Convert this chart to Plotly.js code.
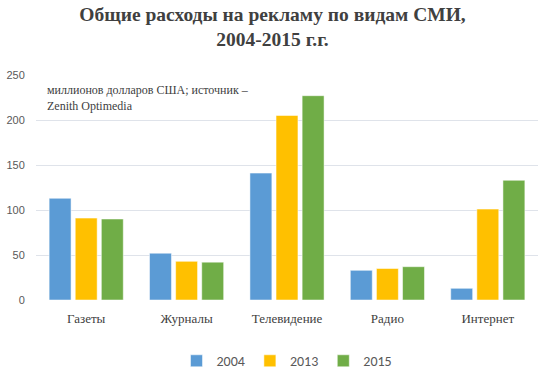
<!DOCTYPE html>
<html><head><meta charset="utf-8">
<script src="https://cdn.plot.ly/plotly-3.0.1.min.js"></script>
<style>body{margin:0;background:#fff}#c{width:545px;height:379px}</style>
</head><body><div id="c"></div>
<script>
const categories = ["Газеты","Журналы","Телевидение","Радио","Интернет"];
const seriesNames = ["2004","2013","2015"];
const v2004 = [113, 52, 141, 33, 13];
const v2013 = [91, 43, 205, 35, 101];
const v2015 = [90, 42, 227, 37, 133];
const yTicks = [0, 50, 100, 150, 200, 250];
const colors = ["#5b9bd5", "#ffc000", "#70ad47"];
const values = [v2004, v2013, v2015];

const traces = values.map((v, i) => ({
  type: "bar", x: categories, y: v, name: seriesNames[i],
  marker: {color: colors[i], line: {color: "#ffffff", width: 0.5}},
  hoverinfo: "none"
}));

const layout = {
  width: 545, height: 379,
  margin: {l: 36, r: 7, t: 75, b: 79},
  paper_bgcolor: "#ffffff", plot_bgcolor: "#ffffff",
  title: {
    text: "<b>Общие расходы на рекламу по видам СМИ,<br>2004-2015 г.г.</b>",
    font: {family: "Liberation Serif, Times New Roman, serif", size: 19.5, color: "#404040"},
    x: 0.5, xanchor: "center", yref: "container", y: 0.945, yanchor: "middle"
  },
  bargap: 0.22, bargroupgap: 0.16, barmode: "group",
  xaxis: {
    automargin: false,
    tickfont: {family: "Liberation Serif, serif", size: 13, color: "#404040"},
    showgrid: false, zeroline: false, showline: false,
    ticks: "outside", ticklen: 6, tickcolor: "rgba(0,0,0,0)"
  },
  yaxis: {
    automargin: false,
    range: [0, 250], tickvals: yTicks, showgrid: true, gridcolor: "#dfe3ea", gridwidth: 1,
    zeroline: false, showline: false, ticks: "outside", ticklen: 8, tickcolor: "rgba(0,0,0,0)",
    tickfont: {family: "Liberation Sans, Arial, sans-serif", size: 11, color: "#595959"}
  },
  legend: {
    orientation: "h", x: 0.5, xanchor: "center",
    yref: "container", y: 0.047, yanchor: "middle",
    font: {family: "Carlito, Open Sans, sans-serif", size: 14, color: "#595959"},
    traceorder: "normal"
  },
  annotations: [{
    text: "миллионов долларов США; источник –<br>Zenith Optimedia",
    xref: "paper", yref: "paper", x: 0.018, y: 0.975, xanchor: "left", yanchor: "top",
    align: "left", showarrow: false,
    font: {family: "Liberation Serif, serif", size: 12, color: "#404040"}
  }]
};
Plotly.newPlot("c", traces, layout, {displayModeBar: false, staticPlot: true});
</script></body></html>
